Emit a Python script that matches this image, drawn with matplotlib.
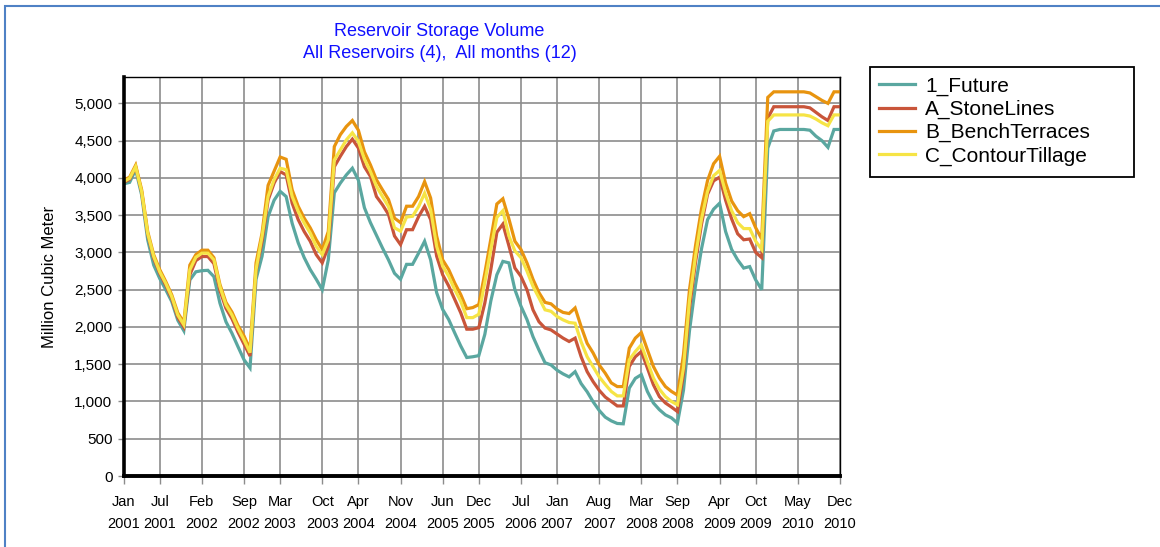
import matplotlib
matplotlib.use("Agg")
import matplotlib.pyplot as plt
from matplotlib.patches import Rectangle

plt.rcParams['font.family'] = ['Liberation Sans', 'DejaVu Sans']

# monthly storage, Jan 2001 .. Dec 2010 (million m3), one row per year
future = [
    3920, 3940, 4110, 3770, 3170, 2830, 2650, 2500, 2340, 2090, 1950, 2630,
    2740, 2755, 2760, 2675, 2320, 2070, 1915, 1735, 1560, 1450, 2640, 2950,
    3480, 3700, 3820, 3750, 3390, 3130, 2930, 2770, 2640, 2500, 2900, 3800,
    3930, 4040, 4130, 3970, 3600, 3400, 3230, 3060, 2900, 2720, 2640, 2840,
    2840, 2990, 3150, 2900, 2460, 2235, 2100, 1920, 1745, 1590, 1600, 1615,
    1900, 2350, 2700, 2880, 2860, 2500, 2280, 2100, 1870, 1690, 1520, 1490,
    1420, 1370, 1330, 1400, 1240, 1130, 995, 880, 790, 740, 705, 700,
    1180, 1310, 1360, 1135, 980, 890, 820, 780, 710, 1150, 1950, 2560,
    3050, 3440, 3580, 3660, 3280, 3040, 2900, 2790, 2810, 2630, 2500, 4400,
    4630, 4650, 4650, 4650, 4650, 4650, 4640, 4560, 4500, 4410, 4650, 4650,
]
stone_lines = [
    3940, 3980, 4150, 3810, 3240, 2920, 2720, 2560, 2380, 2130, 2000, 2700,
    2890, 2945, 2945, 2850, 2490, 2250, 2110, 1930, 1770, 1610, 2750, 3150,
    3700, 3930, 4085, 4040, 3660, 3440, 3280, 3150, 2970, 2860, 3080, 4150,
    4290, 4420, 4520, 4400, 4150, 4020, 3750, 3640, 3510, 3220, 3105, 3305,
    3305, 3480, 3620, 3440, 2950, 2700, 2550, 2370, 2190, 1970, 1970, 1990,
    2320, 2770, 3270, 3380, 3090, 2790, 2680, 2500, 2230, 2070, 1985, 1960,
    1905, 1850, 1805, 1850, 1600, 1400, 1265, 1150, 1060, 1000, 940, 940,
    1470, 1600, 1670, 1450, 1225, 1065, 980, 925, 865, 1370, 2250, 2870,
    3380, 3780, 3960, 4010, 3700, 3450, 3250, 3170, 3180, 3000, 2930, 4800,
    4955, 4955, 4955, 4955, 4955, 4955, 4940, 4880, 4820, 4770, 4955, 4955,
]
bench_terraces = [
    3970, 4010, 4170, 3840, 3280, 2970, 2770, 2610, 2430, 2190, 2060, 2830,
    2970, 3030, 3030, 2930, 2570, 2330, 2200, 2020, 1880, 1700, 2860, 3260,
    3900, 4090, 4280, 4250, 3840, 3620, 3460, 3330, 3170, 3040, 3280, 4420,
    4580, 4690, 4770, 4640, 4350, 4175, 3975, 3840, 3710, 3460, 3400, 3620,
    3620, 3750, 3950, 3730, 3220, 2900, 2770, 2590, 2435, 2245, 2260, 2300,
    2720, 3180, 3650, 3720, 3450, 3150, 3040, 2860, 2640, 2460, 2330, 2310,
    2240, 2195, 2180, 2255, 2005, 1780, 1650, 1490, 1380, 1250, 1200, 1200,
    1715, 1850, 1925, 1695, 1470, 1315, 1200, 1135, 1085, 1630, 2500, 3090,
    3590, 3965, 4190, 4290, 3930, 3690, 3560, 3480, 3520, 3330, 3180, 5080,
    5155, 5155, 5155, 5155, 5155, 5155, 5140, 5090, 5040, 5000, 5155, 5155,
]
contour_tillage = [
    3950, 3995, 4150, 3815, 3255, 2945, 2740, 2585, 2405, 2160, 2030, 2765,
    2935, 2990, 2990, 2900, 2540, 2295, 2160, 1980, 1825, 1655, 2770, 3215,
    3750, 3975, 4130, 4110, 3750, 3550, 3395, 3260, 3080, 2970, 3170, 4240,
    4375, 4510, 4605, 4490, 4250, 4085, 3885, 3750, 3615, 3330, 3285, 3475,
    3485, 3615, 3795, 3575, 3080, 2815, 2680, 2500, 2345, 2125, 2125, 2170,
    2600, 3040, 3470, 3560, 3220, 3020, 2930, 2750, 2545, 2390, 2230, 2210,
    2140, 2095, 2060, 2050, 1800, 1600, 1465, 1330, 1230, 1135, 1075, 1075,
    1560, 1670, 1760, 1535, 1315, 1165, 1065, 1000, 955, 1450, 2350, 2950,
    3450, 3820, 4030, 4100, 3800, 3560, 3400, 3320, 3320, 3150, 3040, 4760,
    4845, 4845, 4845, 4845, 4845, 4845, 4830, 4790, 4740, 4700, 4845, 4845,
]
series_names = ["1_Future", "A_StoneLines", "B_BenchTerraces", "C_ContourTillage"]
colors = ["#5aa7a0", "#c9553a", "#e8940f", "#f6e445"]

tick_pos = [0, 6, 13, 20, 26, 33, 39, 46, 53, 59, 66, 72, 79, 86, 92, 99, 105, 112, 119]
tick_labels = ["Jan\n2001", "Jul\n2001", "Feb\n2002", "Sep\n2002", "Mar\n2003", "Oct\n2003",
               "Apr\n2004", "Nov\n2004", "Jun\n2005", "Dec\n2005", "Jul\n2006", "Jan\n2007",
               "Aug\n2007", "Mar\n2008", "Sep\n2008", "Apr\n2009", "Oct\n2009", "May\n2010",
               "Dec\n2010"]

W, H = 1160, 547
fig = plt.figure(figsize=(W / 100, H / 100), dpi=100)
ax = fig.add_axes([123.6 / W, 1 - 476 / H, (840 - 123.6) / W, (476 - 76.7) / H])

months = list(range(len(future)))
for vals, name, c in zip([future, stone_lines, bench_terraces, contour_tillage], series_names, colors):
    ax.plot(months, vals, color=c, lw=2.3, label=name, solid_joinstyle='miter')

ax.set_xlim(0, 119)
ax.set_ylim(0, 5358)
ax.set_yticks(range(0, 5001, 500))
ax.set_yticklabels([f"{v:,}" for v in range(0, 5001, 500)])
ax.set_xticks(tick_pos)
ax.set_xticklabels(tick_labels, linespacing=1.65)
ax.grid(True, color="#8c8c8c", lw=1.2)
ax.set_axisbelow(True)
ax.tick_params(axis="x", length=6, width=1, color="#8c8c8c", pad=8, labelsize=10.5)
ax.tick_params(axis="y", length=4, width=1, color="#8c8c8c", pad=4, labelsize=11)
ax.spines["left"].set_linewidth(2.6)
ax.spines["bottom"].set_linewidth(2.8)
ax.spines["top"].set_linewidth(1)
ax.spines["right"].set_linewidth(1)

fig.text(50 / W, 1 - 277 / H, "Million Cubic Meter", rotation=90, ha="center", va="center", fontsize=12)
fig.text(439.5 / W, 1 - 31 / H, "Reservoir Storage Volume", ha="center", va="center",
         color="#1010ff", fontsize=13)
fig.text(439.5 / W, 1 - 54 / H, "All Reservoirs (4),  All months (12)", ha="center", va="center",
         color="#1010ff", fontsize=13)

# legend box drawn separately so it keeps the reference's width
fig.add_artist(Rectangle((870 / W, 1 - 177 / H), 264 / W, 110 / H, transform=fig.transFigure,
                         fill=False, edgecolor="black", lw=1.3))
fig.legend(loc="upper left", bbox_to_anchor=(870 / W, 1 - 67 / H), borderaxespad=0,
           fontsize=15, frameon=False, handlelength=1.7, labelspacing=0.2,
           borderpad=0.45, handletextpad=0.5)

fig.add_artist(Rectangle((5 / W, -0.05), 1.1, 1.05 - 6 / H, transform=fig.transFigure,
                         fill=False, edgecolor="#4f81c5", lw=1.5))

fig.savefig("out.png", dpi=100)
